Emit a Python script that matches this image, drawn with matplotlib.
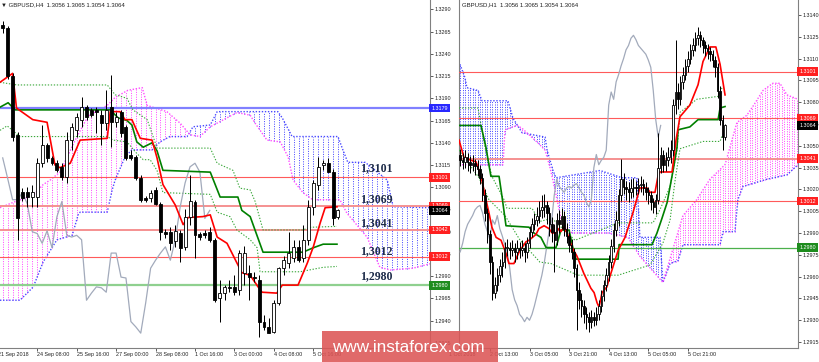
import matplotlib
matplotlib.use('Agg')
import matplotlib.pyplot as plt
from matplotlib.patches import Rectangle
import numpy as np

plt.rcParams['font.family'] = ['Liberation Sans', 'DejaVu Sans']

# ---------------- GBPUSD H4 (left panel) ----------------
h4_open = [1.3272, 1.3269, 1.3215, 1.3149, 1.3085, 1.3085, 1.3079, 1.3079, 1.3117, 1.3137,
           1.3123, 1.3117, 1.3113, 1.3102, 1.3143, 1.3154, 1.3166, 1.3180, 1.3177, 1.3177,
           1.3171, 1.3162, 1.3180, 1.3163, 1.3175, 1.3158, 1.3126, 1.3124, 1.3100, 1.3078,
           1.3078, 1.3087, 1.3071, 1.3040, 1.3040, 1.3030, 1.3039, 1.3023, 1.3056, 1.3073,
           1.3037, 1.3039, 1.3040, 1.3031, 1.2966, 1.2971, 1.2978, 1.2978, 1.2975, 1.2994,
           1.2994, 1.2989, 1.2986, 1.2939, 1.2933, 1.2927, 1.2960, 1.2999, 1.3005, 1.3011,
           1.3023, 1.3011, 1.3031, 1.3068, 1.3093, 1.3115, 1.3117, 1.3107, 1.3056]
h4_high = [1.3277, 1.3271, 1.3218, 1.3152, 1.3089, 1.3090, 1.3093, 1.3123, 1.3160, 1.3140,
           1.3125, 1.3121, 1.3117, 1.3152, 1.3162, 1.3173, 1.3192, 1.3183, 1.3179, 1.3180,
           1.3177, 1.3199, 1.3216, 1.3175, 1.3177, 1.3160, 1.3132, 1.3126, 1.3104, 1.3080,
           1.3087, 1.3090, 1.3073, 1.3043, 1.3045, 1.3048, 1.3042, 1.3065, 1.3104, 1.3076,
           1.3040, 1.3042, 1.3045, 1.3033, 1.2986, 1.2980, 1.2986, 1.2991, 1.3019, 1.3024,
           1.3003, 1.2995, 1.2991, 1.2946, 1.2943, 1.2963, 1.3000, 1.3013, 1.3040, 1.3031,
           1.3031, 1.3048, 1.3076, 1.3098, 1.3124, 1.3121, 1.3123, 1.3110, 1.3065]
h4_low = [1.3263, 1.3212, 1.3142, 1.3031, 1.3074, 1.3068, 1.3068, 1.3068, 1.3113, 1.3118,
          1.3115, 1.3107, 1.3098, 1.3095, 1.3132, 1.3147, 1.3158, 1.3166, 1.3169, 1.3151,
          1.3137, 1.3154, 1.3135, 1.3158, 1.3147, 1.3121, 1.3121, 1.3098, 1.3073, 1.3073,
          1.3073, 1.3070, 1.3031, 1.3033, 1.3019, 1.3023, 1.3006, 1.3019, 1.3048, 1.3011,
          1.3031, 1.3033, 1.3028, 1.2961, 1.2939, 1.2963, 1.2972, 1.2969, 1.2969, 1.2980,
          1.2963, 1.2984, 1.2922, 1.2930, 1.2926, 1.2926, 1.2958, 1.2991, 1.2999, 1.3006,
          1.3006, 1.3006, 1.3025, 1.3059, 1.3087, 1.3109, 1.3107, 1.3048, 1.3054]
h4_close = [1.3269, 1.3215, 1.3146, 1.3055, 1.3078, 1.3079, 1.3085, 1.3117, 1.3137, 1.3123,
            1.3117, 1.3109, 1.3102, 1.3143, 1.3158, 1.3169, 1.3180, 1.3169, 1.3171, 1.3175,
            1.3162, 1.3177, 1.3163, 1.3169, 1.3151, 1.3123, 1.3123, 1.3100, 1.3076, 1.3076,
            1.3084, 1.3071, 1.3040, 1.3038, 1.3027, 1.3041, 1.3022, 1.3057, 1.3074, 1.3036,
            1.3034, 1.3036, 1.3031, 1.2963, 1.2971, 1.2978, 1.2977, 1.2972, 1.3016, 1.3016,
            1.2989, 1.2988, 1.2939, 1.2933, 1.2926, 1.2960, 1.2999, 1.3008, 1.3016, 1.3023,
            1.3008, 1.3031, 1.3068, 1.3095, 1.3113, 1.3117, 1.3107, 1.3055, 1.3064]

h4_tenkan_x = [-0.55, 2.0, 2.8, 6.1, 9.0, 10.6, 11.6, 13.7, 15.7, 21.2, 21.8, 23.8, 24.8, 26.2,
               27.9, 30.3, 31.3, 32.5, 35.0, 36.6, 37.6, 40.6, 42.1, 43.5, 45.5, 48.5, 50.2,
               51.8, 52.6, 55.6, 56.7, 59.9, 61.8, 63.0, 64.4, 65.4, 67.8]
h4_tenkan_y = [1.3208, 1.3218, 1.3179, 1.3166, 1.3163, 1.3115, 1.3112, 1.3117, 1.3143, 1.3145,
               1.3175, 1.3175, 1.3166, 1.3166, 1.3145, 1.3143, 1.3123, 1.3093, 1.3070, 1.3048,
               1.3056, 1.3057, 1.3059, 1.3034, 1.3027, 1.2994, 1.2991, 1.2978, 1.2972, 1.2971,
               1.2980, 1.2980, 1.3005, 1.3023, 1.3050, 1.3067, 1.3068]
h4_kijun_x = [-0.55, 1.1, 2.5, 21.8, 23.4, 25.2, 26.2, 27.2, 28.5, 30.3, 31.3, 32.5, 42.1, 44.1,
              47.7, 48.5, 50.2, 52.8, 60.9, 63.0, 65.0, 67.8]
h4_kijun_y = [1.3180, 1.3185, 1.3177, 1.3177, 1.3168, 1.3165, 1.3160, 1.3141, 1.3135, 1.3140,
              1.3131, 1.3109, 1.3107, 1.3079, 1.3079, 1.3064, 1.3057, 1.3017, 1.3017, 1.3022,
              1.3026, 1.3026]
h4_upper_x = [-0.55, 2.9, 21.2, 22.8, 25.2, 26.4, 29.3, 30.5, 31.3, 42.1, 43.5, 46.7, 48.1,
              50.2, 51.2, 52.8, 60.9, 62.3, 67.8]
h4_upper_y = [1.3208, 1.3205, 1.3205, 1.3194, 1.3190, 1.3177, 1.3166, 1.3147, 1.3134, 1.3134,
              1.3117, 1.3109, 1.3089, 1.3087, 1.3074, 1.3042, 1.3042, 1.3045, 1.3046]
h4_lower_x = [-0.55, 0.9, 3.5, 21.2, 22.4, 25.2, 27.2, 28.5, 29.9, 31.3, 32.5, 42.1, 43.5,
              46.1, 47.5, 50.2, 51.6, 52.2, 60.3, 65.0, 67.8]
h4_lower_y = [1.3154, 1.3159, 1.3147, 1.3147, 1.3143, 1.3141, 1.3128, 1.3121, 1.3121, 1.3109,
              1.3084, 1.3082, 1.3062, 1.3057, 1.3042, 1.3031, 1.3022, 1.2995, 1.2995, 1.3000,
              1.3001]
h4_span_blue_x = [-0.55, 3.5, 6.2, 8.2, 11.0, 14.1, 15.3, 15.7, 21.2, 22.2, 22.8, 24.8, 26.2,
                  30.3, 31.9, 33.9, 37.4, 38.6, 42.1, 43.5, 55.8, 56.7, 58.7, 68.0, 69.0, 70.0,
                  73.5, 74.9, 78.0, 79.2, 86.7]
h4_span_blue_y = [1.2963, 1.2963, 1.2978, 1.3006, 1.3031, 1.3036, 1.3059, 1.3062, 1.3062,
                  1.3087, 1.3098, 1.3124, 1.3132, 1.3132, 1.3141, 1.3147, 1.3147, 1.3158,
                  1.3160, 1.3175, 1.3175, 1.3168, 1.3147, 1.3147, 1.3132, 1.3118, 1.3118,
                  1.3112, 1.3098, 1.3068, 1.3067]
h4_span_pink_x = [-0.55, 2.1, 6.2, 8.2, 9.6, 11.6, 14.7, 17.3, 21.2, 22.8, 25.4, 28.3, 29.3,
                  33.3, 36.0, 38.0, 40.0, 42.1, 47.5, 50.2, 51.2, 53.6, 56.3, 57.9, 58.9, 60.9,
                  62.9, 68.4, 69.8, 73.9, 76.5, 78.6, 83.2, 86.7]
h4_span_pink_y = [1.3067, 1.3073, 1.3081, 1.3093, 1.3098, 1.3107, 1.3143, 1.3170, 1.3182,
                  1.3191, 1.3199, 1.3202, 1.3182, 1.3175, 1.3162, 1.3149, 1.3147, 1.3158,
                  1.3174, 1.3171, 1.3162, 1.3143, 1.3141, 1.3124, 1.3098, 1.3084, 1.3076,
                  1.3076, 1.3061, 1.3034, 1.3000, 1.2997, 1.2999, 1.3004]
h4_levels = [1.3179, 1.3101, 1.3069, 1.3042, 1.3012, 1.2980]
h4_level_text = ['1.3179', '1.3101', '1.3069', '1.3042', '1.3012', '1.2980']
h4_notes = ['1,3101', '1,3069', '1,3041', '1,3012', '1,2980']
h4_note_y = [1.3112, 1.3077, 1.3050, 1.3018, 1.2990]
h4_yticks = [1.2915, 1.2940, 1.2965, 1.2990, 1.3015, 1.3040, 1.3065, 1.3090, 1.3115, 1.3140,
             1.3165, 1.3190, 1.3215, 1.3240, 1.3265, 1.3290]
h4_xticks = [7, 15, 23, 31, 39, 47, 55, 63]
h4_xlabels = ['24 Sep 08:00', '25 Sep 16:00', '27 Sep 00:00', '28 Sep 08:00', '1 Oct 16:00',
              '3 Oct 00:00', '4 Oct 08:00', '5 Oct 16:00']

# ---------------- GBPUSD H1 (right panel) ----------------
h1_ohlc = [
    [1.3044, 1.3048, 1.3036, 1.3040], [1.3040, 1.3045, 1.3034, 1.3039], [1.3039, 1.3047, 1.3035, 1.3042],
    [1.3042, 1.3045, 1.3033, 1.3039], [1.3039, 1.3043, 1.3031, 1.3037], [1.3037, 1.3044, 1.3033, 1.3038],
    [1.3038, 1.3041, 1.3030, 1.3036], [1.3036, 1.3040, 1.3029, 1.3034], [1.3034, 1.3037, 1.3024, 1.3028],
    [1.3028, 1.3031, 1.3012, 1.3016], [1.3016, 1.3020, 1.2998, 1.3004], [1.3004, 1.3007, 1.2983, 1.2989],
    [1.2989, 1.2992, 1.2962, 1.2970], [1.2970, 1.2974, 1.2944, 1.2949], [1.2949, 1.2960, 1.2945, 1.2954],
    [1.2954, 1.2966, 1.2950, 1.2961], [1.2961, 1.2972, 1.2956, 1.2967], [1.2967, 1.2977, 1.2960, 1.2970],
    [1.2970, 1.2984, 1.2966, 1.2980], [1.2980, 1.2986, 1.2974, 1.2980], [1.2980, 1.2984, 1.2972, 1.2978],
    [1.2978, 1.2985, 1.2974, 1.2980], [1.2980, 1.2983, 1.2970, 1.2977], [1.2977, 1.2985, 1.2972, 1.2980],
    [1.2980, 1.2984, 1.2973, 1.2978], [1.2978, 1.2985, 1.2974, 1.2980], [1.2980, 1.2983, 1.2970, 1.2977],
    [1.2977, 1.2987, 1.2973, 1.2983], [1.2983, 1.2995, 1.2980, 1.2991], [1.2991, 1.3000, 1.2987, 1.2996],
    [1.2996, 1.3004, 1.2992, 1.2999], [1.2999, 1.3008, 1.2995, 1.3002], [1.3002, 1.3012, 1.2997, 1.3006],
    [1.3006, 1.3016, 1.3000, 1.3008], [1.3008, 1.3017, 1.3001, 1.3009], [1.3009, 1.3012, 1.2996, 1.3004],
    [1.3004, 1.3008, 1.2988, 1.2996], [1.2996, 1.3001, 1.2984, 1.2991], [1.2991, 1.2996, 1.2963, 1.2985],
    [1.2985, 1.3004, 1.2982, 1.2999], [1.2999, 1.3006, 1.2990, 1.2996], [1.2996, 1.3007, 1.2993, 1.3002],
    [1.3002, 1.3005, 1.2988, 1.2993], [1.2993, 1.2997, 1.2983, 1.2988], [1.2988, 1.2991, 1.2977, 1.2982],
    [1.2982, 1.2986, 1.2972, 1.2977], [1.2977, 1.2980, 1.2960, 1.2966], [1.2966, 1.2969, 1.2923, 1.2951],
    [1.2951, 1.2956, 1.2938, 1.2944], [1.2944, 1.2949, 1.2932, 1.2940], [1.2940, 1.2944, 1.2928, 1.2934],
    [1.2934, 1.2939, 1.2924, 1.2932], [1.2932, 1.2936, 1.2922, 1.2929], [1.2929, 1.2937, 1.2925, 1.2932],
    [1.2932, 1.2936, 1.2926, 1.2930], [1.2930, 1.2939, 1.2927, 1.2934], [1.2934, 1.2944, 1.2930, 1.2940],
    [1.2940, 1.2951, 1.2936, 1.2947], [1.2947, 1.2958, 1.2943, 1.2954], [1.2954, 1.2966, 1.2950, 1.2961],
    [1.2961, 1.2975, 1.2957, 1.2970], [1.2970, 1.2986, 1.2966, 1.2981], [1.2981, 1.2997, 1.2977, 1.2992],
    [1.2992, 1.3005, 1.2988, 1.2999], [1.2999, 1.3020, 1.2995, 1.3016], [1.3016, 1.3041, 1.3012, 1.3027],
    [1.3027, 1.3031, 1.3017, 1.3022], [1.3022, 1.3026, 1.3013, 1.3020], [1.3020, 1.3025, 1.3011, 1.3018],
    [1.3018, 1.3027, 1.3014, 1.3021], [1.3021, 1.3028, 1.3015, 1.3022], [1.3022, 1.3026, 1.3016, 1.3021],
    [1.3021, 1.3028, 1.3017, 1.3023], [1.3023, 1.3029, 1.3018, 1.3024], [1.3024, 1.3027, 1.3016, 1.3021],
    [1.3021, 1.3025, 1.3013, 1.3018], [1.3018, 1.3022, 1.3010, 1.3016], [1.3016, 1.3019, 1.3006, 1.3011],
    [1.3011, 1.3014, 1.3004, 1.3008], [1.3008, 1.3017, 1.3003, 1.3013], [1.3013, 1.3059, 1.3010, 1.3035],
    [1.3035, 1.3049, 1.3031, 1.3044], [1.3044, 1.3047, 1.3032, 1.3037], [1.3037, 1.3046, 1.3033, 1.3040],
    [1.3040, 1.3049, 1.3036, 1.3042], [1.3042, 1.3054, 1.3038, 1.3047], [1.3047, 1.3082, 1.3043, 1.3078],
    [1.3078, 1.3123, 1.3072, 1.3087], [1.3087, 1.3093, 1.3075, 1.3082], [1.3082, 1.3098, 1.3078, 1.3094],
    [1.3094, 1.3104, 1.3089, 1.3099], [1.3099, 1.3110, 1.3095, 1.3105], [1.3105, 1.3115, 1.3101, 1.3110],
    [1.3110, 1.3120, 1.3106, 1.3116], [1.3116, 1.3124, 1.3112, 1.3119], [1.3119, 1.3128, 1.3115, 1.3124],
    [1.3124, 1.3132, 1.3119, 1.3126], [1.3126, 1.3129, 1.3118, 1.3123], [1.3123, 1.3125, 1.3114, 1.3119],
    [1.3119, 1.3122, 1.3112, 1.3117], [1.3117, 1.3120, 1.3110, 1.3115], [1.3115, 1.3118, 1.3108, 1.3113],
    [1.3113, 1.3116, 1.3104, 1.3109], [1.3109, 1.3112, 1.3097, 1.3104], [1.3104, 1.3107, 1.3083, 1.3088],
    [1.3088, 1.3091, 1.3064, 1.3068], [1.3068, 1.3071, 1.3047, 1.3056], [1.3056, 1.3065, 1.3054, 1.3064]]

h1_tenkan_x = [-0.5, 0.7, 1.5, 4.4, 6.4, 7.6, 8.8, 10.4, 11.6, 12.8, 14.5, 16.5, 18.5, 19.7, 21.7,
               23.8, 25.0, 26.6, 27.8, 30.6, 31.8, 33.9, 35.9, 37.1, 38.7, 39.9, 40.7, 41.9, 43.2,
               45.2, 47.2, 50.0, 52.8, 54.1, 55.3, 56.1, 57.3, 59.3, 60.1, 63.8, 66.6, 69.8, 72.6,
               75.5, 76.7, 78.7, 79.9, 80.7, 85.6, 87.2, 88.8, 92.8, 96.1, 98.1, 100.9, 103.3,
               105.0, 107.0]
h1_tenkan_y = [1.3054, 1.3047, 1.3042, 1.3040, 1.3039, 1.3033, 1.3026, 1.3013, 1.3004, 1.2994,
               1.2987, 1.2985, 1.2976, 1.2969, 1.2969, 1.2977, 1.2980, 1.2984, 1.2985, 1.2989,
               1.2993, 1.2995, 1.2993, 1.2990, 1.2990, 1.2993, 1.2991, 1.2994, 1.2990, 1.2980,
               1.2974, 1.2962, 1.2952, 1.2949, 1.2942, 1.2939, 1.2949, 1.2953, 1.2958, 1.2978,
               1.2987, 1.3004, 1.3021, 1.3021, 1.3018, 1.3018, 1.3029, 1.3032, 1.3032, 1.3054,
               1.3070, 1.3078, 1.3092, 1.3108, 1.3118, 1.3118, 1.3106, 1.3085]
h1_kijun_x = [-0.5, 8.4, 10.4, 12.4, 15.7, 16.9, 18.5, 27.8, 29.8, 32.6, 34.7, 38.7, 40.7, 44.0,
              46.0, 46.8, 63.8, 64.2, 77.5, 79.5, 81.5, 83.6, 84.8, 86.0, 87.6, 88.0, 92.8,
              96.1, 104.2, 105.0, 107.0]
h1_kijun_y = [1.3064, 1.3064, 1.3049, 1.3029, 1.3029, 1.3015, 1.2995, 1.2994, 1.2990, 1.2987,
              1.2980, 1.2980, 1.2992, 1.2992, 1.2976, 1.2972, 1.2972, 1.2982, 1.2982, 1.2990,
              1.3000, 1.3011, 1.3022, 1.3033, 1.3049, 1.3061, 1.3063, 1.3068, 1.3068, 1.3076,
              1.3077]
h1_upper_x = [-0.5, 7.2, 10.0, 12.8, 17.7, 18.9, 29.0, 32.2, 37.1, 46.4, 63.8, 77.9, 80.7, 84.8,
              87.6, 88.8, 95.6, 104.2, 105.8]
h1_upper_y = [1.3076, 1.3076, 1.3049, 1.3029, 1.3013, 1.3007, 1.3007, 1.2998, 1.3000, 1.2985,
              1.2997, 1.2997, 1.3006, 1.3022, 1.3047, 1.3073, 1.3082, 1.3084, 1.3090]
h1_lower_x = [-0.5, 7.6, 11.6, 18.1, 24.2, 32.2, 36.7, 47.6, 63.8, 76.7, 81.9, 84.8, 86.8,
              88.8, 98.1, 105.0, 105.8]
h1_lower_y = [1.3047, 1.3028, 1.3013, 1.3002, 1.2985, 1.2970, 1.2969, 1.2961, 1.2961, 1.2968,
              1.2983, 1.2999, 1.3026, 1.3048, 1.3053, 1.3053, 1.3057]
h1_span_blue_x = [-0.5, 1.9, 2.7, 7.2, 8.8, 19.3, 21.3, 25.0, 34.3, 35.1, 37.5, 38.7, 56.5, 65.4,
                  71.4, 72.6, 80.7, 81.9, 84.8, 88.0, 90.0, 105.0, 106.2, 111.0, 112.2, 114.2,
                  123.9, 132.0, 136.5]
h1_span_blue_y = [1.3108, 1.3097, 1.3090, 1.3088, 1.3081, 1.3081, 1.3069, 1.3059, 1.3056, 1.3047,
                  1.3033, 1.3028, 1.3033, 1.3028, 1.3028, 1.2987, 1.2987, 1.2956, 1.2969, 1.2971,
                  1.2982, 1.2982, 1.2991, 1.2991, 1.3013, 1.3022, 1.3027, 1.3030, 1.3037]
h1_span_pink_x = [-0.5, 17.3, 18.1, 23.0, 25.0, 31.4, 34.3, 36.3, 37.5, 41.1, 45.2, 60.1, 67.8,
                  72.6, 81.9, 90.0, 95.6, 100.9, 107.0, 111.8, 115.8, 119.0, 122.3, 126.3, 129.2,
                  132.0, 136.5]
h1_span_pink_y = [1.3037, 1.3037, 1.3061, 1.3064, 1.3062, 1.3052, 1.3047, 1.3035, 1.3026, 1.2997,
                  1.2990, 1.2990, 1.2987, 1.2974, 1.2956, 1.3002, 1.3013, 1.3027, 1.3037, 1.3066,
                  1.3071, 1.3079, 1.3088, 1.3093, 1.3093, 1.3085, 1.3082]
h1_levels = [1.3101, 1.3069, 1.3041, 1.3012, 1.2980]
h1_level_text = ['1.3101', '1.3069', '1.3041', '1.3012', '1.2980']
h1_yticks = [1.2915, 1.2930, 1.2945, 1.2960, 1.2975, 1.2990, 1.3005, 1.3020, 1.3035, 1.3050,
             1.3065, 1.3080, 1.3095, 1.3110, 1.3125, 1.3140]
h1_xticks = [12, 28, 44, 60, 76, 92]
h1_xlabels = ['2 Oct 13:00', '3 Oct 05:00', '3 Oct 21:00', '4 Oct 13:00', '5 Oct 05:00',
              '5 Oct 21:00']

BLUE = '#4a4aff'
PINK = '#ff4cff'
PX = 0.72  # one pixel in points at 100 dpi
SMALL = 3.9


def Candles(ax, o, h, l, c, width):
	x = np.arange(len(c))
	o = np.array(o); h = np.array(h); l = np.array(l); c = np.array(c)
	ax.vlines(x, l, h, color='black', lw=PX, zorder=5)
	bottom = np.minimum(o, c)
	height = np.maximum(np.abs(c - o), 0.00002)
	up = c >= o
	ax.bar(x[up], height[up], width, bottom[up], facecolor='white', edgecolor='black', lw=0.6, zorder=6)
	ax.bar(x[~up], height[~up], width, bottom[~up], facecolor='black', edgecolor='black', lw=0.6, zorder=6)


def Cloud(ax, bx, by, px, py, xmax):
	bars = np.arange(0, int(xmax) + 1)
	yb = np.interp(bars, bx, by)
	yp = np.interp(bars, px, py)
	blue_on_top = yb >= yp
	ax.vlines(bars[blue_on_top], yp[blue_on_top], yb[blue_on_top], color=BLUE, lw=PX,
	          linestyles=(0, (1, 1.4)), zorder=2)
	ax.vlines(bars[~blue_on_top], yb[~blue_on_top], yp[~blue_on_top], color=PINK, lw=PX,
	          linestyles=(0, (1, 1.4)), zorder=2)
	ax.plot(bx, by, color=BLUE, lw=1.0, ls=(0, (1, 1.2)), zorder=2)
	ax.plot(px, py, color=PINK, lw=1.0, ls=(0, (1, 1.2)), zorder=2)


def PriceBox(ax, price, text, color):
	ax.annotate(text, xy=(1, price), xycoords=('axes fraction', 'data'), xytext=(1.0, 0),
	            textcoords='offset points', ha='left', va='center', fontsize=SMALL, color='white',
	            bbox=dict(boxstyle='square,pad=0.35', fc=color, ec='none'), zorder=20,
	            annotation_clip=False)


def Frame(ax, xlim, ylim, yticks, xticks, xlabels):
	ax.set_xlim(xlim)
	ax.set_ylim(ylim)
	for s in ['top', 'left']:
		ax.spines[s].set_visible(False)
	for s in ['right', 'bottom']:
		ax.spines[s].set_color('#808080')
		ax.spines[s].set_linewidth(0.8)
	ax.yaxis.tick_right()
	ax.set_yticks(yticks)
	ax.set_yticklabels(['%.4f' % t for t in yticks])
	ax.set_xticks(xticks)
	ax.set_xticklabels(xlabels)
	for lab in ax.get_xticklabels():
		lab.set_horizontalalignment('left')
	ax.tick_params(axis='both', direction='out', length=2.0, width=0.6, color='#404040',
	               labelsize=SMALL, pad=1.0, labelcolor='#202020')


fig = plt.figure(figsize=(8.2, 3.62), dpi=100)
ax1 = fig.add_axes([0, 14 / 362, 430 / 820, 348 / 362])
ax2 = fig.add_axes([459 / 820, 14 / 362, 339 / 820, 348 / 362])

# ---- left H4 ----
Frame(ax1, (-0.55, 86.67), (1.29093, 1.33005), h4_yticks, h4_xticks, h4_xlabels)
Cloud(ax1, h4_span_blue_x, h4_span_blue_y, h4_span_pink_x, h4_span_pink_y, 86.67)
ax1.axhline(h4_levels[0], color='#8080ff', lw=1.6, zorder=3)
ax1.axhline(h4_levels[1], color='#ff5a5a', lw=0.8, zorder=3)
ax1.axhline(h4_levels[2], color='#f59090', lw=1.4, zorder=3)
ax1.axhline(h4_levels[3], color='#f59090', lw=1.4, zorder=3)
ax1.axhline(h4_levels[4], color='#ff5a5a', lw=0.8, zorder=3)
ax1.axhline(h4_levels[5], color='#8fd08f', lw=1.6, zorder=3)
ax1.plot(h4_upper_x, h4_upper_y, color='#3aa83a', lw=0.8, ls=(0, (1.2, 1.5)), zorder=3)
ax1.plot(h4_lower_x, h4_lower_y, color='#3aa83a', lw=0.8, ls=(0, (1.2, 1.5)), zorder=3)
ax1.plot(np.arange(len(h4_close) - 26), h4_close[26:], color='#a2aabb', lw=0.9, zorder=4)
ax1.plot(h4_kijun_x, h4_kijun_y, color='#008000', lw=1.2, zorder=4)
ax1.plot(h4_tenkan_x, h4_tenkan_y, color='#ff0000', lw=1.2, zorder=4)
Candles(ax1, h4_open, h4_high, h4_low, h4_close, 0.6)
for txt, y in zip(h4_notes, h4_note_y):
	ax1.text(72.4, y, txt, fontsize=8.5, fontweight='bold', family='Liberation Serif',
	         color='#1c2a48', va='center', ha='left', zorder=8)
box_colors = ['#2828ff', '#ff2020', '#ff2020', '#ff2020', '#ff2020', '#1e8c1e']
for i in range(len(h4_levels)):
	PriceBox(ax1, h4_levels[i], h4_level_text[i], box_colors[i])
PriceBox(ax1, h4_close[-1], '%.4f' % h4_close[-1], 'black')
ax1.text(-1, -0.012, '21 Sep 2018', transform=ax1.get_xaxis_transform(), fontsize=SMALL,
         color='#202020', ha='left', va='top', clip_on=False)
ax1.text(0.003, 0.993, '\u25bc GBPUSD,H4  1.3056 1.3065 1.3054 1.3064', transform=ax1.transAxes,
         fontsize=4.3, color='#202020', ha='left', va='top')

# ---- right H1 ----
h1 = np.array(h1_ohlc)
Frame(ax2, (-0.485, 136.48), (1.29109, 1.31503), h1_yticks, h1_xticks, h1_xlabels)
ax2.spines['left'].set_visible(True)
ax2.spines['left'].set_color('#808080')
ax2.spines['left'].set_linewidth(0.8)
Cloud(ax2, h1_span_blue_x, h1_span_blue_y, h1_span_pink_x, h1_span_pink_y, 136.48)
ax2.axhline(h1_levels[0], color='#ff5a5a', lw=0.8, zorder=3)
ax2.axhline(h1_levels[1], color='#ff5a5a', lw=0.8, zorder=3)
ax2.axhline(h1_levels[2], color='#f59090', lw=1.4, zorder=3)
ax2.axhline(h1_levels[3], color='#ff5a5a', lw=0.8, zorder=3)
ax2.axhline(h1_levels[4], color='#4cb04c', lw=0.9, zorder=3)
ax2.plot(h1_upper_x, h1_upper_y, color='#3aa83a', lw=0.8, ls=(0, (1.2, 1.5)), zorder=3)
ax2.plot(h1_lower_x, h1_lower_y, color='#3aa83a', lw=0.8, ls=(0, (1.2, 1.5)), zorder=3)
ax2.plot(np.arange(len(h1) - 26), h1[26:, 3], color='#a2aabb', lw=0.9, zorder=4)
ax2.plot(h1_kijun_x, h1_kijun_y, color='#008000', lw=1.2, zorder=4)
ax2.plot(h1_tenkan_x, h1_tenkan_y, color='#ff0000', lw=1.2, zorder=4)
Candles(ax2, h1[:, 0], h1[:, 1], h1[:, 2], h1[:, 3], 0.6)
box_colors = ['#ff2020', '#ff2020', '#ff2020', '#ff2020', '#1e8c1e']
for i in range(len(h1_levels)):
	PriceBox(ax2, h1_levels[i], h1_level_text[i], box_colors[i])
PriceBox(ax2, h1[-1, 3], '%.4f' % h1[-1, 3], 'black')
ax2.text(-4.5, -0.012, '1 Oct 2018', transform=ax2.get_xaxis_transform(), fontsize=SMALL,
         color='#202020', ha='left', va='top', clip_on=False)
ax2.text(0.008, 0.993, 'GBPUSD,H1  1.3056 1.3065 1.3054 1.3064', transform=ax2.transAxes,
         fontsize=4.3, color='#202020', ha='left', va='top')

# watermark
fig.add_artist(Rectangle((322 / 820, 0), 176 / 820, 31 / 362, transform=fig.transFigure,
                         facecolor='#dc5555', edgecolor='none', alpha=0.88, zorder=30))
fig.text(408 / 820, 14 / 362, 'www.instaforex.com', color='white', fontsize=12.3,
         ha='center', va='center', zorder=31)

fig.savefig('out.png', dpi=100)
